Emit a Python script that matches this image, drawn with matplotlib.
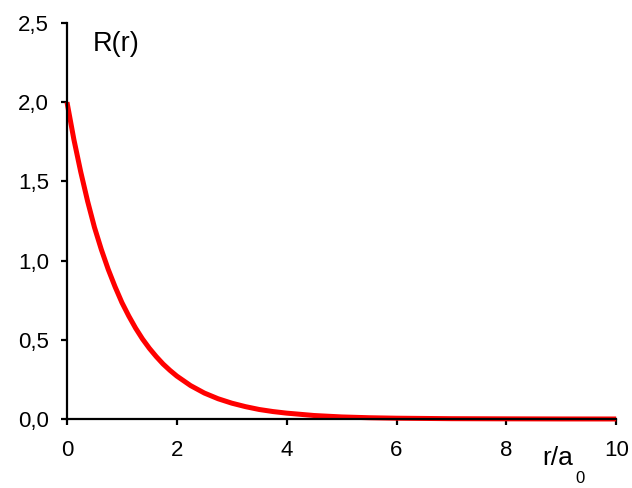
import matplotlib
matplotlib.use("Agg")
import matplotlib.pyplot as plt

# values
r_vals = [0, 0.125, 0.25, 0.375, 0.5, 0.625, 0.75, 0.875, 1.0, 1.125, 1.25, 1.375,
          1.5, 1.625, 1.75, 1.875, 2.0, 2.25, 2.5, 2.75, 3.0, 3.25, 3.5, 3.75,
          4.0, 4.5, 5.0, 5.5, 6.0, 7.0, 8.0, 9.0, 10.0]
R_vals = [2.0, 1.765, 1.56, 1.375, 1.21, 1.07, 0.945, 0.835, 0.735, 0.65, 0.573, 0.505,
          0.446, 0.394, 0.347, 0.307, 0.271, 0.211, 0.164, 0.128, 0.1, 0.078, 0.06, 0.047,
          0.037, 0.022, 0.013, 0.008, 0.005, 0.002, 0.001, 0.0003, 0.0001]
x_ticks = [0, 2, 4, 6, 8, 10]
y_ticks = [0.0, 0.5, 1.0, 1.5, 2.0, 2.5]

plt.rcParams['font.family'] = ['Liberation Sans', 'DejaVu Sans']

fig = plt.figure(figsize=(6.32, 4.88), dpi=100)
ax = fig.add_axes([0.106, 0.1414, 0.869, 0.8116])
ax.plot(r_vals, R_vals, color="red", linewidth=3.6, solid_joinstyle="round",
        solid_capstyle="butt", clip_on=False)
ax.set_xlim(0, 10)
ax.set_ylim(0, 2.5)
ax.spines['top'].set_visible(False)
ax.spines['right'].set_visible(False)
ax.spines['left'].set_linewidth(1.6)
ax.spines['bottom'].set_linewidth(1.6)
ax.set_xticks(x_ticks)
ax.set_yticks(y_ticks)
ax.set_xticklabels([str(t) for t in x_ticks])
ax.set_yticklabels([("%.1f" % t).replace(".", ",") for t in y_ticks])
ax.tick_params(direction="out", length=4, width=1.6, labelsize=16, pad=11)
ax.tick_params(axis="y", pad=9)
fig.text(0.1843, 0.91, "R(r)", fontsize=19.5, ha="center", va="center")
fig.text(0.8576, 0.0615, "r/a", fontsize=19, ha="left", va="center")
fig.text(0.9185, 0.02, "0", fontsize=12, ha="center", va="center")
fig.savefig("out.png", dpi=100)
